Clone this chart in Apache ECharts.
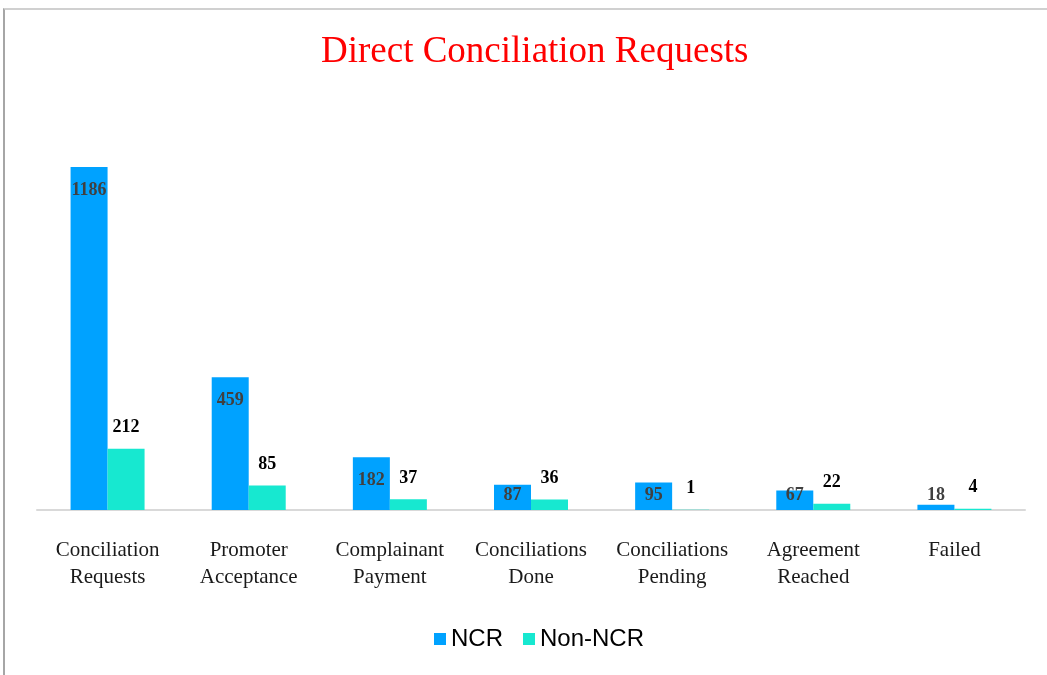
<!DOCTYPE html>
<html>
<head>
<meta charset="utf-8">
<script src="https://cdn.jsdelivr.net/npm/echarts@6/dist/echarts.min.js"></script>
<style>
  html, body { margin: 0; padding: 0; background: #fff; }
  #frame { position: absolute; left: 3px; top: 8px; width: 1044px; height: 667px;
    border-left: 2px solid #a6a6a6; border-top: 2px solid #d0d0d0; box-sizing: border-box; }
  #chart { position: absolute; left: 0; top: 0; width: 1047px; height: 675px; }
</style>
</head>
<body>
<div id="frame"></div>
<div id="chart"></div>
<script>
// ==================== 数据 ====================
const categories = [
  'Conciliation\nRequests',
  'Promoter\nAcceptance',
  'Complainant\nPayment',
  'Conciliations\nDone',
  'Conciliations\nPending',
  'Agreement\nReached',
  'Failed'
]
const ncrValues = [1186, 459, 182, 87, 95, 67, 18]
const nonNcrValues = [212, 85, 37, 36, 1, 22, 4]
const seriesNames = ['NCR', 'Non-NCR']

const colors = { ncr: '#00A2FF', nonNcr: '#17E8D0' }
const serif = '"Liberation Serif", "DejaVu Serif", serif'

const chart = echarts.init(document.getElementById('chart'))

// short bars: keep the value label sitting on the baseline like Excel does
const ncrData = ncrValues.map(v => v < 125
  ? { value: v, label: { position: 'insideBottom', distance: 6 } }
  : v)

chart.setOption({
  backgroundColor: 'transparent',
  animation: false,
  title: {
    text: 'Direct Conciliation Requests',
    left: 316,
    top: 29,
    textStyle: { color: '#FF0000', fontFamily: serif, fontWeight: 'normal', fontSize: 37 }
  },
  legend: {
    bottom: 19,
    left: 429,
    icon: 'rect',
    itemWidth: 12,
    itemHeight: 12,
    itemGap: 20,
    textStyle: { color: '#000', fontSize: 24, fontFamily: '"Liberation Sans", Arial, sans-serif' },
    data: seriesNames
  },
  grid: { left: 37, right: 22, top: 105, bottom: 165, containLabel: false },
  xAxis: {
    type: 'category',
    data: categories,
    axisLine: { lineStyle: { color: '#d9d9d9', width: 2 } },
    axisTick: { show: false },
    axisLabel: {
      color: '#1a1a1a',
      fontFamily: serif,
      fontSize: 21,
      lineHeight: 27,
      margin: 27,
      interval: 0
    }
  },
  yAxis: {
    type: 'value',
    min: 0,
    max: 1400,
    show: false
  },
  series: [
    {
      name: seriesNames[0],
      type: 'bar',
      data: ncrData,
      barWidth: 37,
      barGap: '0%',
      itemStyle: { color: colors.ncr },
      label: {
        show: true,
        position: 'insideTop',
        distance: 14,
        color: '#404040',
        fontFamily: serif,
        fontWeight: 'bold',
        fontSize: 18
      }
    },
    {
      name: seriesNames[1],
      type: 'bar',
      data: nonNcrValues,
      barWidth: 37,
      itemStyle: { color: colors.nonNcr },
      label: {
        show: true,
        position: 'top',
        distance: 12,
        color: '#000',
        fontFamily: serif,
        fontWeight: 'bold',
        fontSize: 18
      }
    }
  ]
})
</script>
</body>
</html>
